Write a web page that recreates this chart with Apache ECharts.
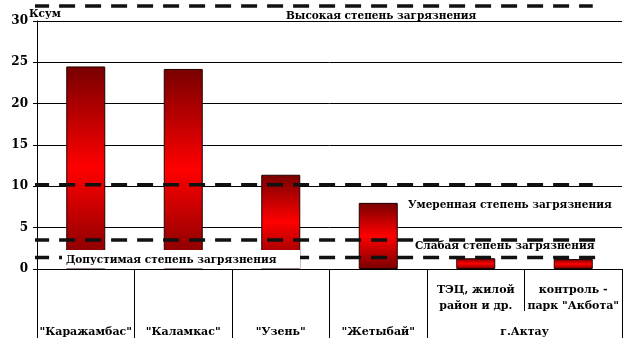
<!DOCTYPE html>
<html>
<head>
<meta charset="utf-8">
<title>Ксум</title>
<script src="https://cdn.jsdelivr.net/npm/echarts@6/dist/echarts.min.js"></script>
<style>
  * { margin: 0; padding: 0; }
  html, body { background: #fff; }
  #main { width: 634px; height: 352px; }
</style>
</head>
<body>
<div id="main"></div>
<script>
// level 1 category labels (site), level 2 group labels
var categories = ['', '', '', '', 'ТЭЦ, жилой\nрайон и др.', 'контроль -\nпарк "Акбота"'];
var groupLabels = ['"Каражамбас"', '"Каламкас"', '"Узень"', '"Жетыбай"', 'г.Актау'];
var groupCenters = [0.5, 1.5, 2.5, 3.5, 5];
var groupBounds = [0, 1, 2, 3, 4, 6];
var ksum = [24.5, 24.2, 11.4, 8.0, 1.3, 1.2];
var yTicks = [0, 5, 10, 15, 20, 25, 30];

// pollution levels (dashed lines)
var levelValues = [31.8, 10.2, 3.5, 1.4];
var levelStart = [-0.04, -0.04, -0.04, -0.04];
var levelEnd = [5.70, 5.70, 5.74, 5.74];

var font = 'DejaVu Serif';
var noteFont = 'bold 10.5px "DejaVu Serif"';
var chart = echarts.init(document.getElementById('main'));

var barGrad = new echarts.graphic.LinearGradient(0, 0, 0, 1, [
    {offset: 0, color: '#780000'},
    {offset: 0.5, color: '#ff0000'},
    {offset: 1, color: '#780000'}
]);

var levelSeries = levelValues.map(function (v, i) {
    return {
        type: 'line',
        xAxisIndex: 1,
        data: [[levelStart[i], v], [levelEnd[i], v]],
        symbol: 'none',
        clip: false,
        silent: true,
        z: 5,
        lineStyle: {color: '#111', width: 3.5, type: [16, 10], cap: 'butt'}
    };
});

var option = {
    animation: false,
    grid: {left: 37, right: 12, top: 21, bottom: 83},
    xAxis: [
        {
            type: 'category',
            data: categories,
            axisLine: {lineStyle: {color: '#000', width: 1}},
            axisTick: {show: true, interval: 0, length: 42, lineStyle: {color: '#000'}},
            axisLabel: {
                interval: 0, margin: 13, lineHeight: 16,
                color: '#000', fontFamily: font, fontWeight: 'bold', fontSize: 11
            },
            splitLine: {show: false}
        },
        {
            type: 'value',
            position: 'bottom',
            offset: 42,
            min: 0, max: 6,
            axisLine: {show: false},
            axisTick: {show: true, customValues: groupBounds, length: 27, lineStyle: {color: '#000'}},
            axisLabel: {
                customValues: groupCenters, margin: 16,
                formatter: function (v) { return groupLabels[groupCenters.indexOf(v)]; },
                color: '#000', fontFamily: font, fontWeight: 'bold', fontSize: 11
            },
            splitLine: {show: false}
        }
    ],
    yAxis: {
        type: 'value',
        min: 0, max: 30, interval: 5,
        axisLine: {show: true, lineStyle: {color: '#000'}},
        axisTick: {show: true, length: 4, lineStyle: {color: '#000'}},
        axisLabel: {
            margin: 9, color: '#000', fontFamily: font, fontWeight: 'bold', fontSize: 12,
            customValues: yTicks
        },
        splitLine: {show: true, lineStyle: {color: '#000', width: 1}}
    },
    graphic: [
        {type: 'text', left: 29, top: 9, z: 100,
         style: {text: 'Ксум', font: noteFont, fill: '#000'}},
        {type: 'text', left: 286, top: 11, z: 100,
         style: {text: 'Высокая степень загрязнения', font: noteFont, fill: '#000'}},
        {type: 'text', left: 408, top: 200, z: 100,
         style: {text: 'Умеренная степень загрязнения', font: noteFont, fill: '#000'}},
        {type: 'text', left: 415, top: 241, z: 100,
         style: {text: 'Слабая степень загрязнения', font: noteFont, fill: '#000'}},
        {type: 'rect', left: 62, top: 250, z: 100,
         shape: {width: 238, height: 18.5}, style: {fill: '#fff'}},
        {type: 'text', left: 66, top: 255, z: 101,
         style: {text: 'Допустимая степень загрязнения', font: noteFont, fill: '#000'}}
    ],
    series: [
        {
            type: 'bar',
            data: ksum,
            barWidth: '40%',
            z: 3,
            itemStyle: {color: barGrad, borderColor: '#200', borderWidth: 1}
        }
    ].concat(levelSeries)
};
chart.setOption(option);
</script>
</body>
</html>
